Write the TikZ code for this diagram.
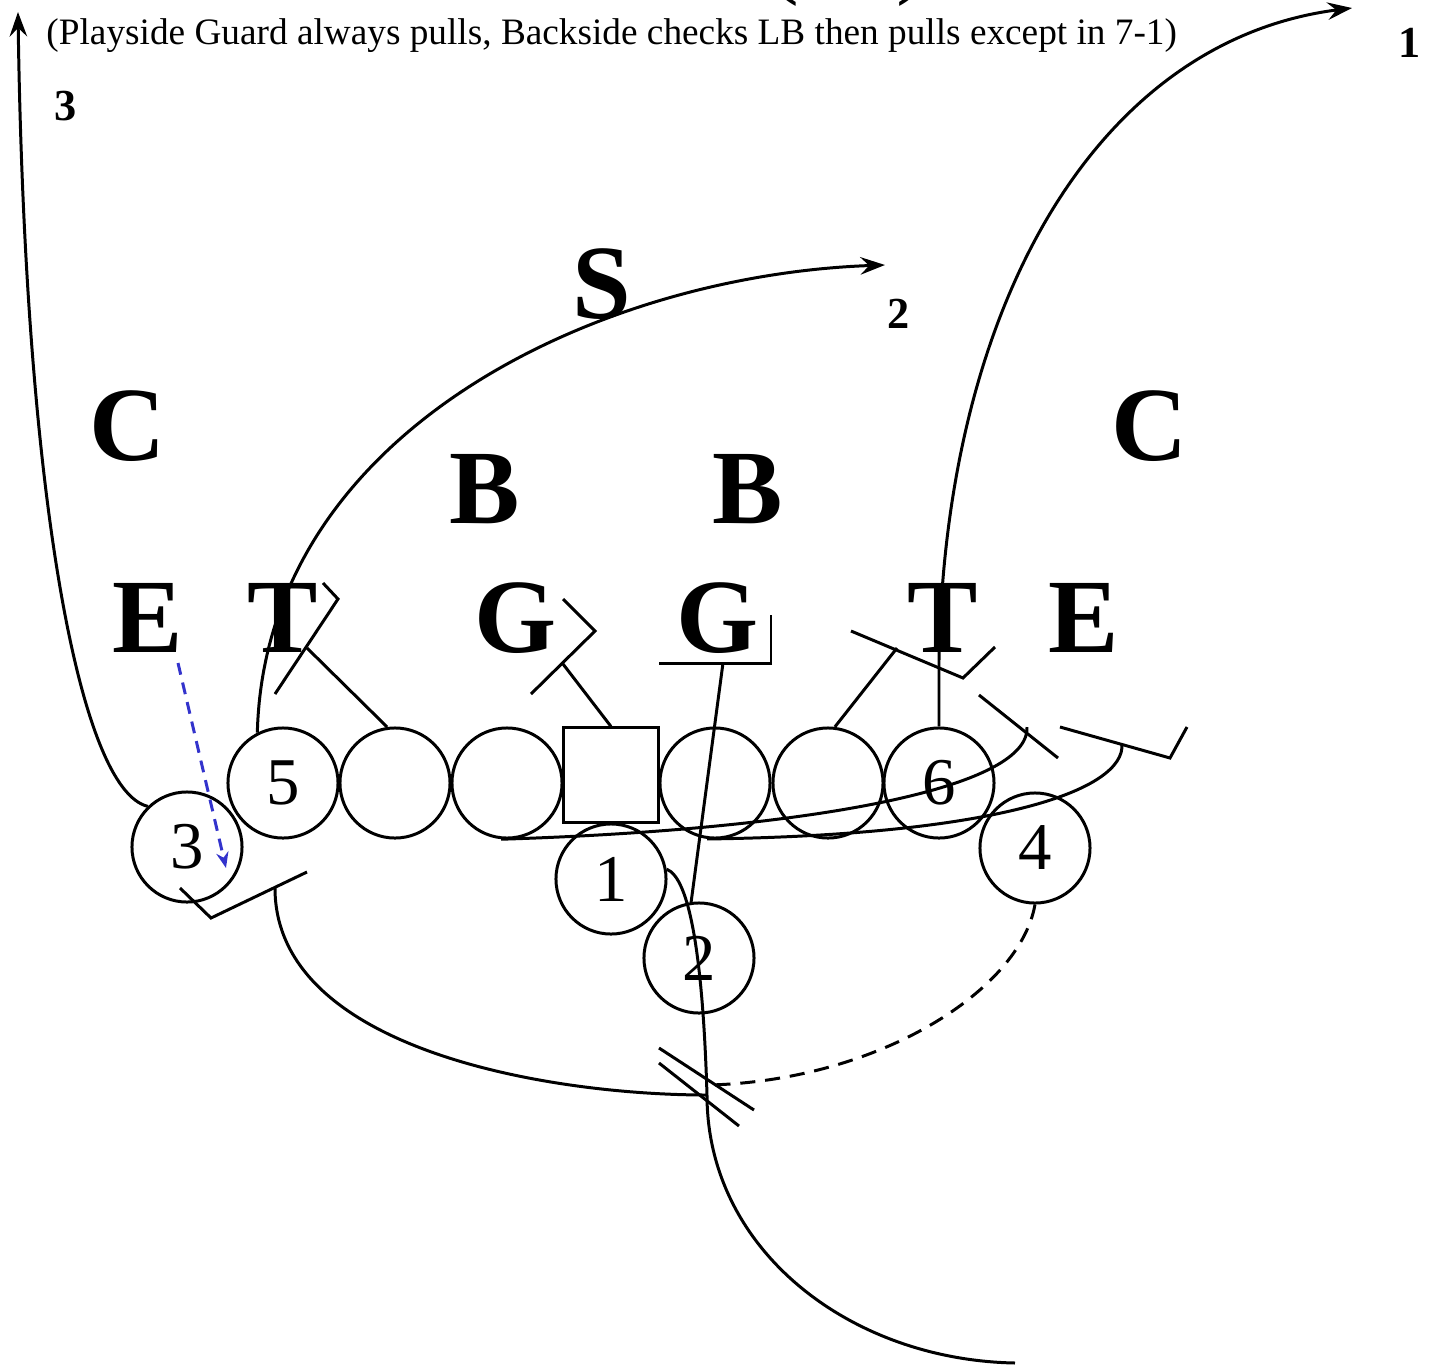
\documentclass[tikz,border=0pt]{standalone}
\usepackage{fontspec}
\setmainfont{Liberation Serif}
\usetikzlibrary{arrows.meta}
\definecolor{readblue}{HTML}{3333CC}
\tikzset{
  every picture/.style={line width=0.85pt, >={Stealth[length=7pt, width=5pt, inset=2.5pt]}},
  player/.style={circle, draw, minimum size=1.1cm, inner sep=0pt, font=\fontsize{19}{22}\selectfont},
  snapper/.style={rectangle, draw, minimum size=0.94cm, inner sep=0pt},
  defn/.style={anchor=base, inner sep=0pt, font=\fontsize{30}{34}\selectfont\bfseries},
  hole/.style={anchor=base, inner sep=0pt, font=\fontsize{12.6}{15}\selectfont\bfseries},
  note/.style={anchor=base west, inner sep=0pt, font=\fontsize{10.6}{13}\selectfont},
  route/.style={->},
  fake/.style={dash pattern=on 4.3pt off 2.8pt},
  readpath/.style={->, readblue, dash pattern=on 3.4pt off 2.3pt, >={Stealth[length=4.5pt, width=3.5pt]}},
}

\begin{document}
\begin{tikzpicture}[x=0.01cm, y=-0.01cm]
  \useasboundingbox (0,0) rectangle (1432,1369);
  \node[note] (call) at (45,44) {(Playside Guard always pulls, Backside checks LB then pulls except in 7-1)};
  \node[anchor=base, inner sep=0pt, font=\fontsize{28}{32}\selectfont] (head) at (848,-15) {(\hspace{0.97cm})};
  % offense
  \node[player] (p5) at (283,783) {5};
  \node[player] (lt) at (395,783) {};
  \node[player] (lg) at (507,783) {};
  \node[snapper] (c) at (611,775) {};
  \node[player] (rg) at (715,783) {};
  \node[player] (rt) at (828,783) {};
  \node[player] (p6) at (939,783) {6};
  \node[player] (p3) at (187,847) {3};
  \node[player] (p4) at (1035,848) {4};
  \node[player] (p1) at (611,879) {1};
  \node[player] (p2) at (699,958) {2};
  % defense
  \node[defn] (cL) at (128,460) {C};
  \node[defn] (cR) at (1150,460) {C};
  \node[defn] (bL) at (485,523) {B};
  \node[defn] (bR) at (748,523) {B};
  \node[defn] (eL) at (148,652) {E};
  \node[defn] (tL) at (283,652) {T};
  \node[defn] (gL) at (516,652) {G};
  \node[defn] (gR) at (718,652) {G};
  \node[defn] (tR) at (943,652) {T};
  \node[defn] (eR) at (1084,652) {E};
  \node[defn] (s) at (602,318) {S};
  \node[hole] (h3) at (66,120) {3};
  \node[hole] (h2) at (899,328) {2};
  \node[hole] (h1) at (1410,57) {1};
  % block ends
  \coordinate (mesh) at (707,1095);
  \coordinate (kickL) at (307,648);
  \coordinate (kickC) at (563,664);
  \coordinate (kickG) at (723,663);
  \coordinate (kickT) at (897,648);
  \coordinate (kick3) at (275,888);
  \coordinate (pullA) at (1027,727);
  \coordinate (pullB) at (1122,744);
  \coordinate (readA) at (178,663);
  \coordinate (readB) at (226,868);
  \draw (lt.98) -- (kickL);
  \draw (275,694) -- (338,599) -- (323,583);
  \draw (c.north) -- (kickC);
  \draw (531,694) -- (595,631) -- (563,599);
  \draw (p2.98) -- (kickG);
  \draw (659,663) -- (771,663) -- (771,615);
  \draw (rt.83) -- (kickT);
  \draw (851,631) -- (963,678) -- (995,647);
  \draw (979,695) -- (1058,758);
  \draw (1060,727) -- (1170,758) -- (1187,727);
  \draw (180,888) -- (211,918) -- (307,872);
  \draw (659,1048) -- (754,1110);
  \draw (659,1063) -- (739,1126);
  % pulls and routes
  \draw (lg.264) .. controls (800,830) and (1030,790) .. (pullA);
  \draw (rg.262) .. controls (1000,835) and (1125,790) .. (pullB);
  \draw (kick3) .. controls (275,1050) and (550,1095) .. (mesh);
  \draw (p1.10) .. controls (690,878) and (703,960) .. (mesh)
        .. controls (707,1250) and (850,1360) .. (1015,1363);
  \draw[fake] (p4.south) .. controls (1020,990) and (880,1080) .. (710,1085);
  \draw[route] (p3.134) .. controls (80,790) and (25,500) .. (18,12);
  \draw[route] (p5.117) .. controls (265,430) and (600,275) .. (885,265);
  \draw[route] (p6.north) -- (939,660) .. controls (945,300) and (1100,40) .. (1352,8);
  \draw[readpath] (readA) -- (readB);
\end{tikzpicture}
\end{document}
